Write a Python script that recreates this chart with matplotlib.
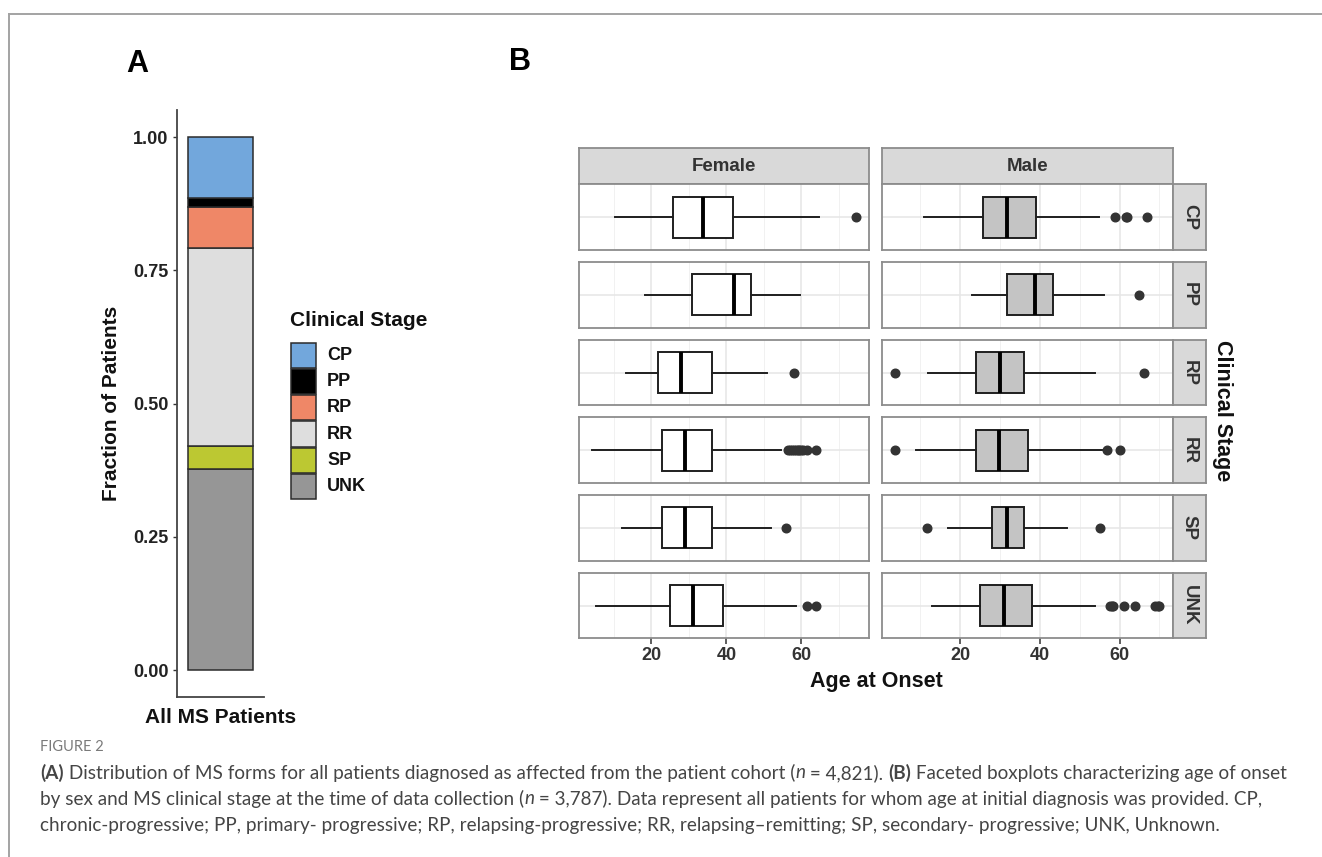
import matplotlib
matplotlib.use("Agg")
import matplotlib.pyplot as plt
from matplotlib.patches import Rectangle
from matplotlib.lines import Line2D

W, H, DPI = 1322, 857, 100
plt.rcParams["font.family"] = ["Liberation Sans", "DejaVu Sans"]

# ---- Panel A data: share of each clinical stage ----
stages = ["CP", "PP", "RP", "RR", "SP", "UNK"]
stage_fraction = [0.114, 0.017, 0.077, 0.372, 0.043, 0.377]
stage_colors = ["#72a7dc", "#000000", "#ef8767", "#dedede", "#bcc832", "#969696"]

# ---- Panel B data: age-at-onset box statistics by sex and stage ----
sexes = ["Female", "Male"]
sex_fill = ["#ffffff", "#c4c4c4"]

female_whislo = [10.4, 18.2, 13.3, 4.3, 12.2, 5.3]
female_q1 = [25.9, 30.9, 21.9, 22.9, 22.9, 25.1]
female_med = [33.9, 42.0, 28.0, 28.9, 28.9, 31.1]
female_q3 = [41.9, 46.5, 36.2, 36.2, 36.2, 39.0]
female_whishi = [64.7, 59.7, 50.8, 54.7, 51.8, 58.7]
female_fliers = [[74.6], [], [58.0],
                 [56.4, 57.0, 57.5, 58.0, 58.5, 59.0, 59.5, 60.0, 60.4, 61.6, 64.0],
                 [56.0], [61.6, 64.0]]

male_whislo = [11.0, 23.1, 12.0, 8.9, 17.0, 12.9]
male_q1 = [25.8, 31.8, 23.9, 23.9, 28.1, 24.9]
male_med = [31.8, 38.9, 30.0, 29.8, 31.8, 31.0]
male_q3 = [39.0, 43.3, 36.0, 37.0, 36.0, 38.0]
male_whishi = [54.8, 56.0, 53.9, 56.8, 46.8, 53.9]
male_fliers = [[58.9, 61.5, 61.9, 66.8], [64.8], [3.7, 66.0], [3.8, 56.8, 60.0],
               [11.8, 55.0], [57.7, 58.0, 58.4, 61.0, 63.9, 69.0, 69.6, 70.0]]

age_ticks = [20, 40, 60]
age_minor = [10, 30, 50, 70]
frac_ticks = [0.0, 0.25, 0.50, 0.75, 1.00]

fig = plt.figure(figsize=(W / DPI, H / DPI), dpi=DPI)


def axes_px(x0, y0, x1, y1, **kw):
    return fig.add_axes([x0 / W, 1 - y1 / H, (x1 - x0) / W, (y1 - y0) / H], **kw)


def fig_text(x, y, s, **kw):
    return fig.text(x / W, 1 - y / H, s, **kw)


# outer frame lines
fig.add_artist(Line2D([9 / W, 1], [1 - 13.5 / H] * 2, color="#a3a3a3", lw=1.4))
fig.add_artist(Line2D([9 / W] * 2, [0, 1 - 13.5 / H], color="#a3a3a3", lw=1.4))

# ================= Panel A =================
axA = axes_px(177, 110.4, 264, 696.7)
bottom = 0.0
for name, frac, col in reversed(list(zip(stages, stage_fraction, stage_colors))):
    axA.bar(1, frac, bottom=bottom, width=0.9, color=col, edgecolor="#2b2b2b", linewidth=1.1)
    bottom += frac
axA.set_xlim(0.4, 1.6)
axA.set_ylim(-0.05, 1.05)
axA.set_yticks(frac_ticks)
axA.set_yticklabels([f"{v:.2f}" for v in frac_ticks], fontsize=13, fontweight="bold", color="#222222")
axA.set_xticks([1])
axA.set_xticklabels(["All MS Patients"], fontsize=15, fontweight="bold", color="#111111")
axA.tick_params(axis="y", length=3, width=1, color="#333333", pad=3)
axA.tick_params(axis="x", length=0, pad=8)
for s in ["top", "right"]:
    axA.spines[s].set_visible(False)
for s in ["left", "bottom"]:
    axA.spines[s].set_color("#444444")
    axA.spines[s].set_linewidth(1.3)
axA.set_ylabel("Fraction of Patients", fontsize=15, fontweight="bold", color="#111111", labelpad=9)

# legend keys for the stages, stacked without gaps
legax = axes_px(288, 300, 450, 510)
legax.set_xlim(288, 450)
legax.set_ylim(510, 300)
legax.axis("off")
legax.text(290, 320, "Clinical Stage", fontsize=15, fontweight="bold", color="#111111",
           ha="left", va="center")
key_top, key_h = 342.0, 26.3
for i, (name, col) in enumerate(zip(stages, stage_colors)):
    yk = key_top + i * key_h
    legax.add_patch(Rectangle((290.5, yk + 0.5), 25, key_h - 1, facecolor=col,
                              edgecolor="#2b2b2b", linewidth=1.1))
    legax.text(327, yk + key_h / 2, name, fontsize=13, fontweight="bold", color="#111111",
               ha="left", va="center")

fig_text(137, 64, "A", fontsize=22, fontweight="bold", ha="center", va="center")
fig_text(520, 62, "B", fontsize=22, fontweight="bold", ha="center", va="center")

# ================= Panel B =================
col_x = [(579.3, 869.3), (881.7, 1172.7)]
row_top, row_h, row_pitch = 184.3, 65.6, 77.7
strip_top = 148.3
strip_right = 1206.0
panel_edge = "#8c8c8c"

sex_stats = [
    (female_whislo, female_q1, female_med, female_q3, female_whishi, female_fliers),
    (male_whislo, male_q1, male_med, male_q3, male_whishi, male_fliers),
]

for ci, (sex, fill, stats) in enumerate(zip(sexes, sex_fill, sex_stats)):
    lo, q1, med, q3, hi, fl = stats
    vals = list(lo) + list(hi) + [v for f in fl for v in f]
    vmin, vmax = min(vals), max(vals)
    pad = 0.05 * (vmax - vmin)
    xlim = (vmin - pad, vmax + pad)
    x0, x1 = col_x[ci]

    # facet strip on top
    sax = axes_px(x0, strip_top, x1, row_top)
    sax.set_facecolor("#d9d9d9")
    sax.set_xticks([]); sax.set_yticks([])
    for sp in sax.spines.values():
        sp.set_color(panel_edge); sp.set_linewidth(1.3)
    sax.text(0.5, 0.5, sex, transform=sax.transAxes, ha="center", va="center",
             fontsize=13.5, fontweight="bold", color="#333333")

    for ri, stage in enumerate(stages):
        y0 = row_top + ri * row_pitch
        ax = axes_px(x0, y0, x1, y0 + row_h)
        st = dict(med=med[ri], q1=q1[ri], q3=q3[ri], whislo=lo[ri], whishi=hi[ri],
                  fliers=fl[ri], label=stage)
        ax.bxp([st], positions=[1], widths=0.75, orientation="horizontal",
               patch_artist=True, showcaps=False,
               boxprops=dict(facecolor=fill, edgecolor="#1f1f1f", linewidth=1.4),
               medianprops=dict(color="#000000", linewidth=2.8, solid_capstyle="butt"),
               whiskerprops=dict(color="#1f1f1f", linewidth=1.4),
               flierprops=dict(marker="o", markerfacecolor="#333333",
                               markeredgecolor="#333333", markersize=6.2))
        ax.set_xlim(*xlim)
        ax.set_ylim(0.4, 1.6)
        ax.set_xticks(age_ticks)
        ax.set_xticks(age_minor, minor=True)
        ax.set_yticks([1])
        ax.grid(which="major", color="#e6e6e6", linewidth=1.1)
        ax.grid(which="minor", axis="x", color="#f1f1f1", linewidth=0.7)
        ax.set_axisbelow(True)
        ax.tick_params(axis="y", left=False, labelleft=False)
        ax.tick_params(which="minor", bottom=False)
        if ri == len(stages) - 1:
            ax.tick_params(axis="x", length=4, width=1.1, color="#333333", pad=2,
                           labelsize=13, labelcolor="#333333")
            for t in ax.get_xticklabels():
                t.set_fontweight("bold")
        else:
            ax.tick_params(axis="x", bottom=False, labelbottom=False)
        for sp in ax.spines.values():
            sp.set_color(panel_edge); sp.set_linewidth(1.3)

        if ci == 1:
            rax = axes_px(x1, y0, strip_right, y0 + row_h)
            rax.set_facecolor("#d9d9d9")
            rax.set_xticks([]); rax.set_yticks([])
            for sp in rax.spines.values():
                sp.set_color(panel_edge); sp.set_linewidth(1.3)
            rax.text(0.5, 0.5, stage, transform=rax.transAxes, ha="center", va="center",
                     rotation=-90, fontsize=13.5, fontweight="bold", color="#333333")

fig_text(876, 681, "Age at Onset", fontsize=15.5, fontweight="bold", ha="center", va="center",
         color="#111111")
fig_text(1223, 411, "Clinical Stage", fontsize=15.5, fontweight="bold", ha="center", va="center",
         rotation=-90, color="#111111")

# ================= Caption =================
cap_font = ["Lato", "DejaVu Sans"]
fig_text(40, 747, "FIGURE 2", fontsize=10.5, color="#7a7a7a", family=cap_font,
         ha="left", va="center")

caption_lines = [
    [("(A)", "bold", "normal"),
     (" Distribution of MS forms for all patients diagnosed as affected from the patient cohort (", "normal", "normal"),
     ("n", "normal", "italic"),
     (" = 4,821). ", "normal", "normal"),
     ("(B)", "bold", "normal"),
     (" Faceted boxplots characterizing age of onset", "normal", "normal")],
    [("by sex and MS clinical stage at the time of data collection (", "normal", "normal"),
     ("n", "normal", "italic"),
     (" = 3,787). Data represent all patients for whom age at initial diagnosis was provided. CP,", "normal", "normal")],
    [("chronic-progressive; PP, primary- progressive; RP, relapsing-progressive; RR, relapsing\u2013remitting; "
      "SP, secondary- progressive; UNK, Unknown.", "normal", "normal")],
]
caption_y = [773, 799, 825]
renderer = fig.canvas.get_renderer()
for runs, yy in zip(caption_lines, caption_y):
    xx = 40.0
    for s, wgt, sty in runs:
        t = fig_text(xx, yy, s, fontsize=13.6, color="#454545", family=cap_font,
                     fontweight=wgt, fontstyle=sty, ha="left", va="center")
        xx += t.get_window_extent(renderer).width

fig.savefig("out.png", dpi=DPI)
